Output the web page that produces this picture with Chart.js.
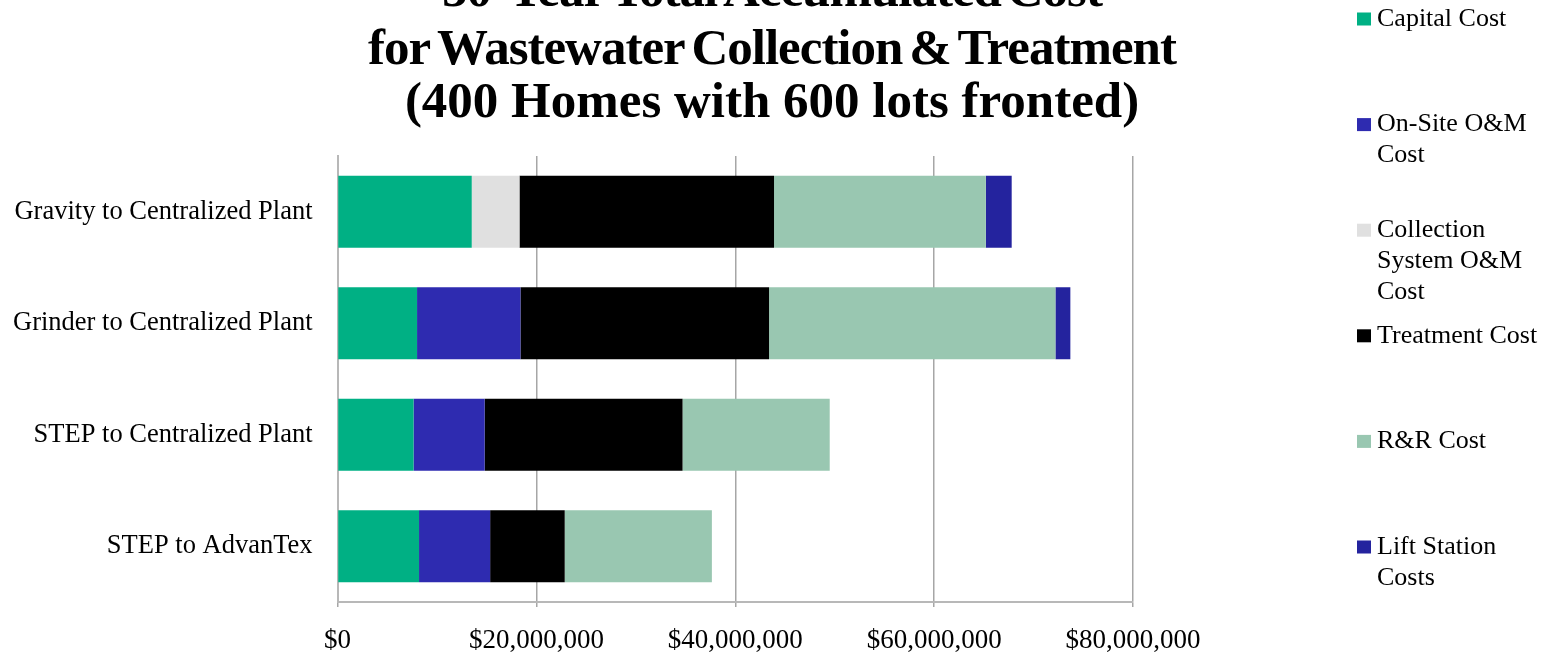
<!DOCTYPE html>
<html><head><meta charset="utf-8">
<script src="https://cdn.jsdelivr.net/npm/chart.js@4.4.1/dist/chart.umd.min.js"></script>
<style>html,body{margin:0;padding:0;background:#fff;overflow:hidden}#wrap{position:relative;width:1548px;height:656px;}</style>
</head><body><div id="wrap"><canvas id="c"></canvas></div>
<script>
const categories = ['Gravity to Centralized Plant', 'Grinder to Centralized Plant', 'STEP to Centralized Plant', 'STEP to AdvanTex'];
const seriesNames = ['Capital Cost', 'On-Site O&M Cost', 'Collection System O&M Cost', 'Treatment Cost', 'R&R Cost', 'Lift Station Costs'];
const legendLines = [['Capital Cost'], ['On-Site O&M', 'Cost'], ['Collection', 'System O&M', 'Cost'], ['Treatment Cost'], ['R&R Cost'], ['Lift Station', 'Costs']];
const capitalCost = [13500000, 8000000, 7650000, 8200000];
const onSiteOMCost = [0, 10400000, 7150000, 7150000];
const collectionOMCost = [4800000, 0, 0, 0];
const treatmentCost = [25600000, 25000000, 19900000, 7500000];
const rrCost = [21300000, 28800000, 14800000, 14800000];
const liftStationCost = [2600000, 1500000, 0, 0];
const xTickLabels = ['$0', '$20,000,000', '$40,000,000', '$60,000,000', '$80,000,000'];
const titleLines = ['50-Year Total Accumulated Cost', 'for Wastewater Collection & Treatment', '(400 Homes with 600 lots fronted)'];
const colors = ['#00B084', '#2E2BB0', '#E0E0E0', '#000000', '#99C7B1', '#24239E'];

const seriesData = [capitalCost, onSiteOMCost, collectionOMCost, treatmentCost, rrCost, liftStationCost];

const overlay = {
  id: 'overlay',
  afterDraw(chart) {
    const ctx = chart.ctx;
    ctx.save();
    ctx.fillStyle = '#000';
    ctx.textAlign = 'center';
    ctx.textBaseline = 'alphabetic';
    ctx.font = 'bold 51px "Liberation Serif"';
    const ys = [6, 64, 117];
    const ws = ['-6px', '-5px', '0px'];
    const ls = ['-1px', '-1px', '0px'];
    titleLines.forEach((t, i) => {
      try { ctx.wordSpacing = ws[i]; ctx.letterSpacing = ls[i]; } catch (e) {}
      ctx.fillText(t, 772, ys[i]);
    });
    try { ctx.wordSpacing = '0px'; ctx.letterSpacing = '0px'; } catch (e) {}
    ctx.textAlign = 'left';
    ctx.textBaseline = 'middle';
    ctx.font = '26px "Liberation Serif"';
    legendLines.forEach((lines, i) => {
      const y0 = 19 + i * 105.6;
      ctx.fillStyle = colors[i];
      ctx.fillRect(1357, y0 - 6.5, 14, 13);
      ctx.fillStyle = '#000';
      lines.forEach((ln, j) => ctx.fillText(ln, 1377, y0 + j * 31));
    });
    ctx.restore();
  }
};

new Chart(document.getElementById('c'), {
  type: 'bar',
  data: {
    labels: categories,
    datasets: seriesNames.map((n, i) => ({
      label: n,
      data: seriesData[i],
      backgroundColor: colors[i],
      borderWidth: 0,
      categoryPercentage: 1,
      barPercentage: 0.645
    }))
  },
  options: {
    indexAxis: 'y',
    responsive: true,
    maintainAspectRatio: false,
    animation: false,
    layout: { padding: { top: 156, right: 415, left: 0, bottom: 0 } },
    plugins: { legend: { display: false }, title: { display: false }, tooltip: { enabled: false } },
    scales: {
      x: {
        stacked: true,
        min: 0, max: 80000000,
        ticks: {
          stepSize: 20000000,
          padding: 18,
          color: '#000',
          font: { family: '"Liberation Serif"', size: 27 },
          callback: (v, i) => xTickLabels[i]
        },
        grid: { color: '#a6a6a6', lineWidth: 1.5, tickLength: 5, drawTicks: true },
        border: { display: true, color: '#b8b8b8', width: 2 },
        afterFit: (s) => { s.height = 54; }
      },
      y: {
        stacked: true,
        ticks: {
          padding: 25,
          color: '#000',
          font: { family: '"Liberation Serif"', size: 26.5 }
        },
        grid: { display: false, drawTicks: false },
        border: { display: true, color: '#b8b8b8', width: 2 },
        afterFit: (s) => { s.width = 337.5; }
      }
    }
  },
  plugins: [overlay]
});
</script>
</body></html>
